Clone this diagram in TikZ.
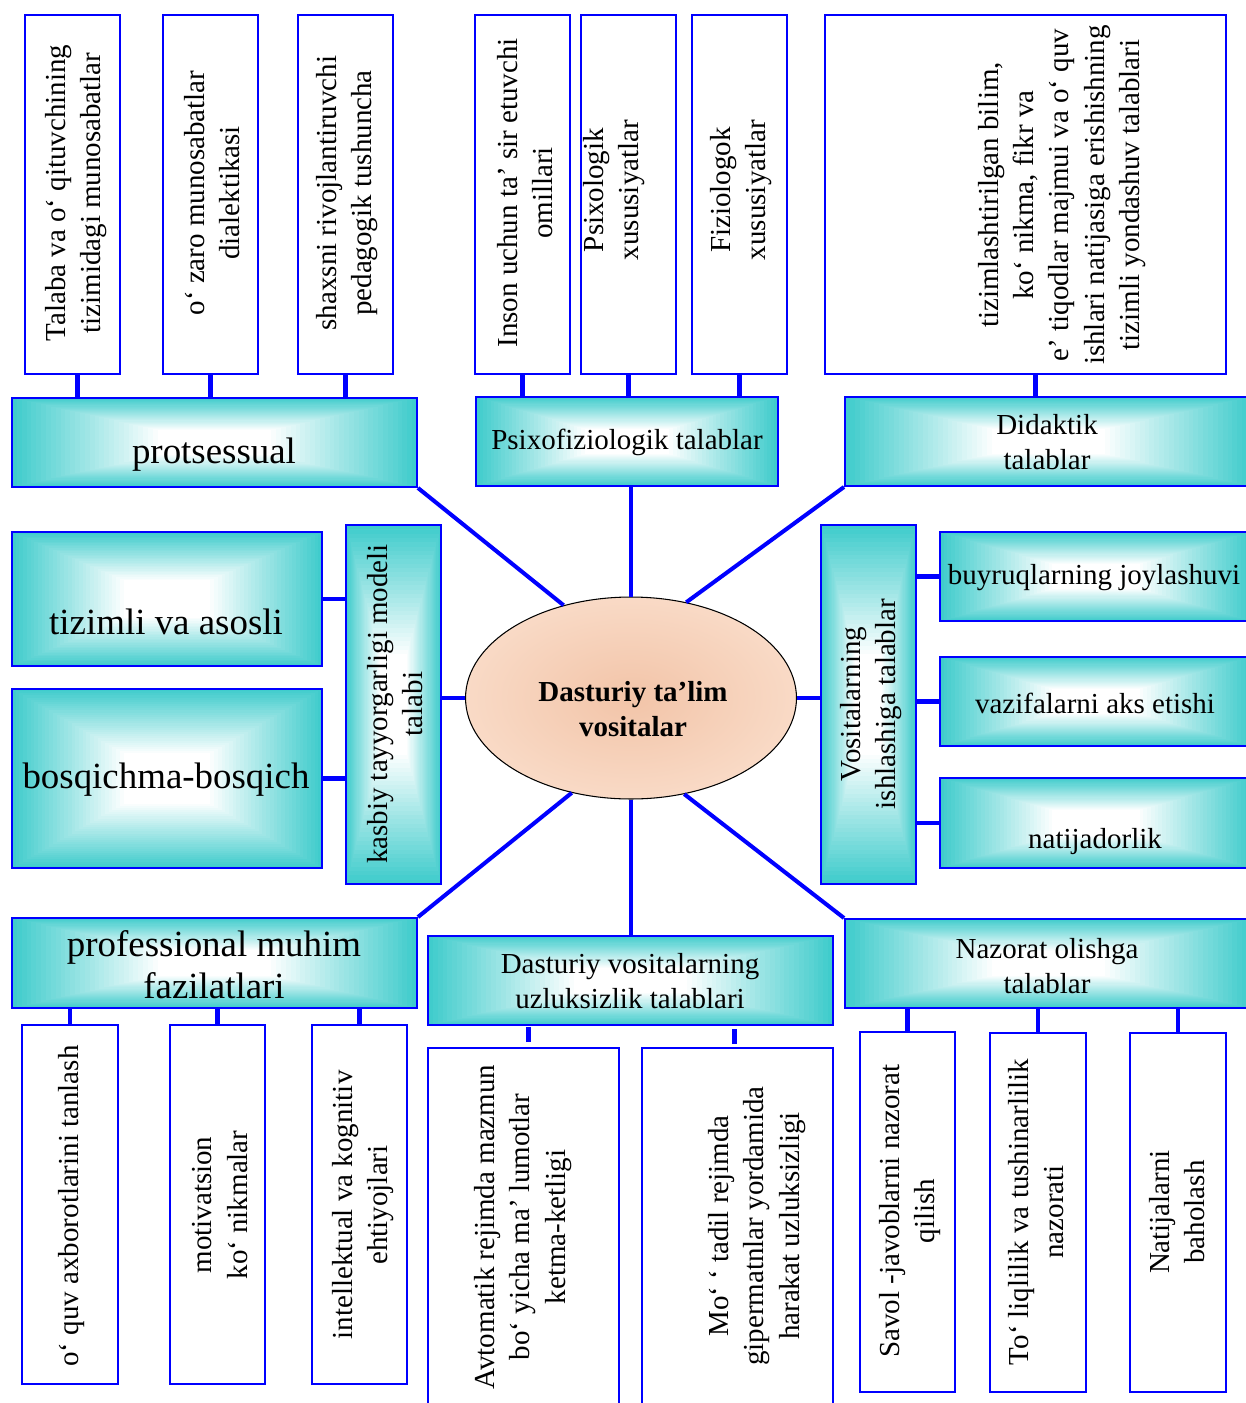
\documentclass[tikz,border=0pt]{standalone}
\usepackage{fontspec}
\setmainfont{Liberation Serif}
\usetikzlibrary{fit, calc, shapes.geometric}
\definecolor{cat_cyan}{RGB}{64, 204, 204}
\definecolor{core_in}{RGB}{242, 196, 168}
\definecolor{core_out}{RGB}{249, 218, 198}
\newcommand{\txtsz}{\fontsize{16.5}{20}\selectfont}
\newcommand{\bigsz}{\fontsize{21}{24}\selectfont}
\tikzset {
  leaf/.style = {draw=blue, line width=1.1pt, fill=white, inner sep=0pt},
  % rectangular glow: nested rectangles from cyan rim to white middle
  cat/.style = {draw=blue, line width=1.1pt, fill=cat_cyan, inner sep=0pt,
    path picture={
      \foreach \k in {1,...,30} {
        \pgfmathsetmacro{\glowin}{0.72*\k/30}
        \pgfmathsetmacro{\glowmix}{100*\k/30}
        \fill[white!\glowmix!cat_cyan]
          ($(path picture bounding box.south west)!\glowin!(path picture bounding box.center)$)
          rectangle ($(path picture bounding box.north east)!\glowin!(path picture bounding box.center)$);
      }
    }},
  corenode/.style = {draw=black, line width=0.6pt, ellipse, inner color=core_in, outer color=core_out, minimum width=6.62cm, minimum height=4.04cm, inner sep=0pt},
  link/.style = {draw=blue, line width=2.3pt},
  vtxt/.style = {rotate=90, align=center, font=\txtsz, inner sep=0pt},
  htxt/.style = {align=center, font=\txtsz, inner sep=0pt},
  bigtxt/.style = {align=center, font=\bigsz, inner sep=0pt}
}

\begin{document}
\begin{tikzpicture}[x=0.02cm, y=-0.02cm]
    \useasboundingbox (0,0) rectangle (1246,1403);

    % top leaves
    \node[leaf, fit={(25,15) (120,374)}] (t1) {};
    \node[leaf, fit={(163,15) (258,374)}] (t2) {};
    \node[leaf, fit={(298,15) (393,374)}] (t3) {};
    \node[leaf, fit={(475,15) (570,374)}] (t4) {};
    \node[leaf, fit={(581,15) (676,374)}] (t5) {};
    \node[leaf, fit={(692,15) (787,374)}] (t6) {};
    \node[leaf, fit={(825,15) (1226,374)}] (t7) {};
    \node[vtxt] (t1-txt) at (76,193) {Talaba va o‘ qituvchining\\tizimidagi munosabatlar};
    \node[vtxt] (t2-txt) at (212,193) {o‘ zaro munosabatlar\\dialektikasi};
    \node[vtxt] (t3-txt) at (347,193) {shaxsni rivojlantiruvchi\\pedagogik tushuncha};
    \node[vtxt] (t4-txt) at (525,193) {Inson uchun ta’ sir etuvchi\\omillari};
    \node[vtxt] (t5-txt) at (614,190) {Psixologik\\xususiyatlar};
    \node[vtxt] (t6-txt) at (741,190) {Fiziologok\\xususiyatlar};
    \node[vtxt] (t7-txt) at (1062,195) {tizimlashtirilgan bilim,\\ko‘ nikma, fikr va\\e’ tiqodlar majmui va o‘ quv\\ishlari natijasiga erishishning\\tizimli yondashuv talablari};

    % groups
    \node[cat, fit={(12,398) (417,487)}] (prots) {};
    \node[cat, fit={(476,397) (778,486)}] (psixo) {};
    \node[cat, fit={(845,397) (1252,486)}] (didak) {};
    \node[cat, fit={(12,532) (322,666)}] (tizimli) {};
    \node[cat, fit={(12,689) (322,868)}] (bosqich) {};
    \node[cat, fit={(346,525) (441,884)}] (kasbiy) {};
    \node[cat, fit={(821,525) (916,884)}] (vosit) {};
    \node[cat, fit={(940,532) (1252,621)}] (buyruq) {};
    \node[cat, fit={(940,657) (1252,746)}] (vazifa) {};
    \node[cat, fit={(940,778) (1252,868)}] (natija) {};
    \node[cat, fit={(12,918) (417,1008)}] (profmuh) {};
    \node[cat, fit={(428,936) (833,1025)}] (uzluk) {};
    \node[cat, fit={(845,919) (1252,1008)}] (nazorat) {};
    \node[bigtxt] (prots-txt) at (214,455) {protsessual};
    \node[htxt] (psixo-txt) at (627,442) {Psixofiziologik talablar};
    \node[htxt] (didak-txt) at (1047,442) {Didaktik\\talablar};
    \node[bigtxt] (tizimli-txt) at (166,622) {tizimli va asosli};
    \node[bigtxt] (bosqich-txt) at (166,780) {bosqichma-bosqich};
    \node[vtxt] (kasbiy-txt) at (395,704) {kasbiy tayyorgarligi modeli\\talabi};
    \node[vtxt] (vosit-txt) at (871,704) {Vositalarning\\ishlashiga talablar};
    \node[htxt] (buyruq-txt) at (1094,578) {buyruqlarning joylashuvi};
    \node[htxt] (vazifa-txt) at (1095,703) {vazifalarni aks etishi};
    \node[htxt] (natija-txt) at (1095,842) {natijadorlik};
    \node[bigtxt] (profmuh-txt) at (214,965) {professional muhim\\fazilatlari};
    \node[htxt] (uzluk-txt) at (630,981) {Dasturiy vositalarning\\uzluksizlik talablari};
    \node[htxt] (nazorat-txt) at (1047,966) {Nazorat olishga\\talablar};

    % centre
    \node[corenode] (core) at (631,698) {};
    \node[htxt, font=\txtsz\bfseries] (core-txt) at (633,709) {Dasturiy ta’lim\\vositalar};

    % bottom leaves
    \node[leaf, fit={(22,1025) (118,1384)}] (b1) {};
    \node[leaf, fit={(170,1025) (265,1384)}] (b2) {};
    \node[leaf, fit={(312,1025) (407,1384)}] (b3) {};
    \node[leaf, fit={(428,1048) (619,1420)}] (b4) {};
    \node[leaf, fit={(642,1048) (833,1420)}] (b5) {};
    \node[leaf, fit={(860,1032) (955,1392)}] (b6) {};
    \node[leaf, fit={(990,1033) (1086,1392)}] (b7) {};
    \node[leaf, fit={(1130,1033) (1226,1392)}] (b8) {};
    \node[vtxt] (b1-txt) at (72,1206) {o‘ quv axborotlarini tanlash};
    \node[vtxt] (b2-txt) at (220,1205) {motivatsion\\ko‘ nikmalar};
    \node[vtxt] (b3-txt) at (363,1205) {intellektual va kognitiv\\ehtiyojlari};
    \node[vtxt] (b4-txt) at (523,1227) {Avtomatik rejimda mazmun\\bo‘ yicha ma’ lumotlar\\ketma-ketligi};
    \node[vtxt] (b5-txt) at (757,1226) {Mo‘ ‘ tadil rejimda\\gipermatnlar yordamida\\harakat uzluksizligi};
    \node[vtxt] (b6-txt) at (910,1211) {Savol -javoblarni nazorat\\qilish};
    \node[vtxt] (b7-txt) at (1036,1212) {To‘ liqlilik va tushinarlilik\\nazorati};
    \node[vtxt] (b8-txt) at (1177,1212) {Natijalarni\\baholash};

    % links
    \draw[link] ([xshift=0.1cm]t1.south) -- ([xshift=0.1cm]t1.south |- prots.north);
    \draw[link] (t2.south) -- (t2.south |- prots.north);
    \draw[link] (t3.south) -- (t3.south |- prots.north);
    \draw[link] (t4.south) -- (t4.south |- psixo.north);
    \draw[link] (t5.south) -- (t5.south |- psixo.north);
    \draw[link] (t6.south) -- (t6.south |- psixo.north);
    \draw[link] ([xshift=0.2cm]t7.south) -- ([xshift=0.2cm]t7.south |- didak.north);
    \draw[link] (prots.south east) -- (core.126);
    \draw[link] (core.north) -- (core.north |- psixo.south);
    \draw[link] (didak.south west) -- (core.60);
    \draw[link] (tizimli.east) -- (tizimli.east -| kasbiy.west);
    \draw[link] (bosqich.east) -- (bosqich.east -| kasbiy.west);
    \draw[link] (core.west) -- (core.west -| kasbiy.east);
    \draw[link] (core.east) -- (core.east -| vosit.west);
    \draw[link] (buyruq.west) -- (buyruq.west -| vosit.east);
    \draw[link] (vazifa.west) -- (vazifa.west -| vosit.east);
    \draw[link] (natija.west) -- (natija.west -| vosit.east);
    \draw[link] (profmuh.north east) -- (core.238);
    \draw[link] (core.south) -- (core.south |- uzluk.north);
    \draw[link] (nazorat.north west) -- (core.299);
    \draw[link] (b1.north) -- (b1.north |- profmuh.south);
    \draw[link] (b2.north) -- (b2.north |- profmuh.south);
    \draw[link] (b3.north) -- (b3.north |- profmuh.south);
    \draw[link] ([shift={(5,-5)}]b4.north) -- ([shift={(5,-20)}]b4.north);
    \draw[link] ([shift={(-3,-3)}]b5.north) -- ([shift={(-3,-18)}]b5.north);
    \draw[link] (b6.north) -- (b6.north |- nazorat.south);
    \draw[link] (b7.north) -- (b7.north |- nazorat.south);
    \draw[link] (b8.north) -- (b8.north |- nazorat.south);

\end{tikzpicture}
\end{document}
